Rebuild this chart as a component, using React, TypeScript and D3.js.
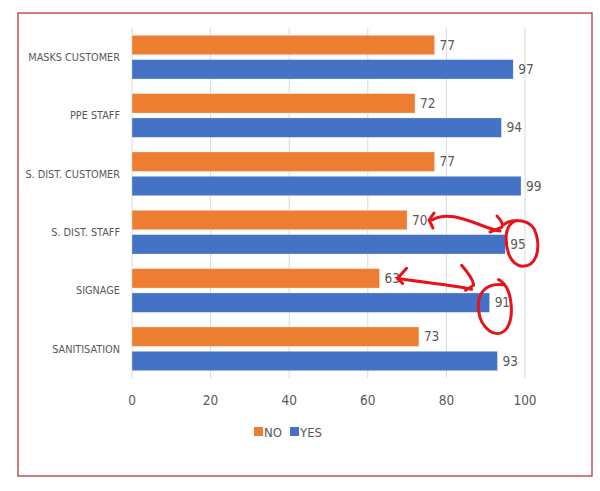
import React from 'react';
import * as d3 from 'd3';

const categories = ['MASKS CUSTOMER', 'PPE STAFF', 'S. DIST. CUSTOMER', 'S. DIST. STAFF', 'SIGNAGE', 'SANITISATION'];
const noValues = [77, 72, 77, 70, 63, 73];
const yesValues = [97, 94, 99, 95, 91, 93];
const seriesNames = ['NO', 'YES'];
const xTicks = [0, 20, 40, 60, 80, 100];

const width = 600;
const height = 491;
const colors: Record<string, string> = { NO: '#ED7D31', YES: '#4472C4' };
const textColor = '#595959';
const font = '"DejaVu Sans Condensed", "Liberation Sans", Arial, sans-serif';

const App: React.FC = () => {
  const x = d3.scaleLinear().domain([0, 100]).range([132, 525]);
  const y = d3.scaleBand().domain(categories).range([28, 378]);
  const inner = d3.scaleBand().domain(seriesNames).range([0, y.bandwidth()]).paddingInner(0.2).paddingOuter(0.3);
  const bw = inner.bandwidth();

  const rows = categories.map((c, i) => ({ cat: c, NO: noValues[i], YES: yesValues[i] }));

  // hand drawn red marks, anchored on the two annotated rows
  const yesMid = (cat: string) => (y(cat) ?? 0) + (inner('YES') ?? 0) + bw / 2;
  const noMid = (cat: string) => (y(cat) ?? 0) + (inner('NO') ?? 0) + bw / 2;
  const c1x = x(95) + 15, c1y = yesMid('S. DIST. STAFF');
  const c2x = x(91) + 7, c2y = yesMid('SIGNAGE') + 4;
  const a1y = noMid('S. DIST. STAFF');
  const a2x = x(63) + 20, a2y = noMid('SIGNAGE');

  const legendY = 432;

  return (
    <svg width={width} height={height} style={{ position: 'absolute', left: 0, top: 0, background: '#fff' }}>
      <rect x={18} y={13} width={574} height={463} fill="#fff" stroke="#B8383B" strokeWidth={1.3} />

      {xTicks.map(t => (
        <line key={t} x1={x(t)} x2={x(t)} y1={28} y2={378} stroke="#D9D9D9" strokeWidth={1} />
      ))}

      {rows.map(r => (
        <g key={r.cat} transform={`translate(0,${y(r.cat)})`}>
          {seriesNames.map(s => (
            <g key={s}>
              <rect
                x={x(0)}
                y={inner(s)}
                width={x((r as any)[s]) - x(0)}
                height={bw}
                fill={colors[s]}
                stroke="#fff"
                strokeOpacity={0.5}
                strokeWidth={0.6}
              />
              <text
                x={x((r as any)[s]) + 5}
                y={(inner(s) ?? 0) + bw / 2}
                dy="0.35em"
                fontSize={13.5}
                fontFamily={font}
                fill={textColor}
              >
                {(r as any)[s]}
              </text>
            </g>
          ))}
          <text
            x={120}
            y={y.bandwidth() / 2}
            dy="0.35em"
            textAnchor="end"
            fontSize={10.8}
            fontFamily={font}
            fill={textColor}
          >
            {r.cat}
          </text>
        </g>
      ))}

      {xTicks.map(t => (
        <text key={t} x={x(t)} y={400} dy="0.35em" textAnchor="middle" fontSize={13.5} fontFamily={font} fill={textColor}>
          {t}
        </text>
      ))}

      <g fontFamily={font} fontSize={13} fill={textColor}>
        <rect x={254} y={legendY - 5} width={9} height={9} fill={colors.NO} />
        <text x={264} y={legendY} dy="0.35em">NO</text>
        <rect x={290} y={legendY - 5} width={9} height={9} fill={colors.YES} />
        <text x={300} y={legendY} dy="0.35em">YES</text>
      </g>

      <g fill="none" stroke="#E5141B" strokeWidth={3} strokeLinecap="round" strokeLinejoin="round">
        {/* circle around 95 */}
        <path
          d={`M ${c1x - 16} ${c1y - 20} C ${c1x - 8} ${c1y - 26}, ${c1x + 12} ${c1y - 26}, ${c1x + 16} ${c1y - 10}
              C ${c1x + 20} ${c1y + 6}, ${c1x + 16} ${c1y + 22}, ${c1x + 2} ${c1y + 22}
              C ${c1x - 12} ${c1y + 20}, ${c1x - 15} ${c1y + 2}, ${c1x - 14} ${c1y - 10}
              C ${c1x - 13} ${c1y - 18}, ${c1x - 10} ${c1y - 22}, ${c1x - 4} ${c1y - 24}`}
        />
        {/* arrow 70 <-> 95 */}
        <path
          d={`M 432 ${a1y} C 445 ${a1y - 8}, 462 ${a1y - 2}, 478 ${a1y + 4}
              C 488 ${a1y + 8}, 494 ${a1y + 10}, 500 ${a1y + 11}`}
        />
        <path d={`M 434 ${a1y - 7} L 429 ${a1y} L 433 ${a1y + 8}`} />
        <path d={`M 497 ${a1y - 4} C 501 ${a1y}, 503 ${a1y + 4}, 502 ${a1y + 7} L 490 ${a1y + 12}`} />
        {/* circle around 91 */}
        <path
          d={`M ${c2x + 2} ${c2y - 27} C ${c2x + 16} ${c2y - 20}, ${c2x + 18} ${c2y + 10}, ${c2x + 10} ${c2y + 22}
              C ${c2x} ${c2y + 34}, ${c2x - 16} ${c2y + 22}, ${c2x - 18} ${c2y + 4}
              C ${c2x - 20} ${c2y - 12}, ${c2x - 12} ${c2y - 24}, ${c2x + 6} ${c2y - 22}`}
        />
        {/* arrow 63 <-> 91 */}
        <path
          d={`M ${a2x - 2} ${a2y} C ${a2x + 20} ${a2y + 4}, ${a2x + 50} ${a2y + 6}, ${a2x + 72} ${a2y + 11}`}
        />
        <path d={`M ${a2x + 7} ${a2y - 10} L ${a2x - 2} ${a2y} L ${a2x + 3} ${a2y + 5}`} />
        <path d={`M ${a2x + 62} ${a2y - 13} C ${a2x + 68} ${a2y - 6}, ${a2x + 74} ${a2y + 2}, ${a2x + 74} ${a2y + 7} L ${a2x + 66} ${a2y + 12}`} />
      </g>
    </svg>
  );
};

export default App;
